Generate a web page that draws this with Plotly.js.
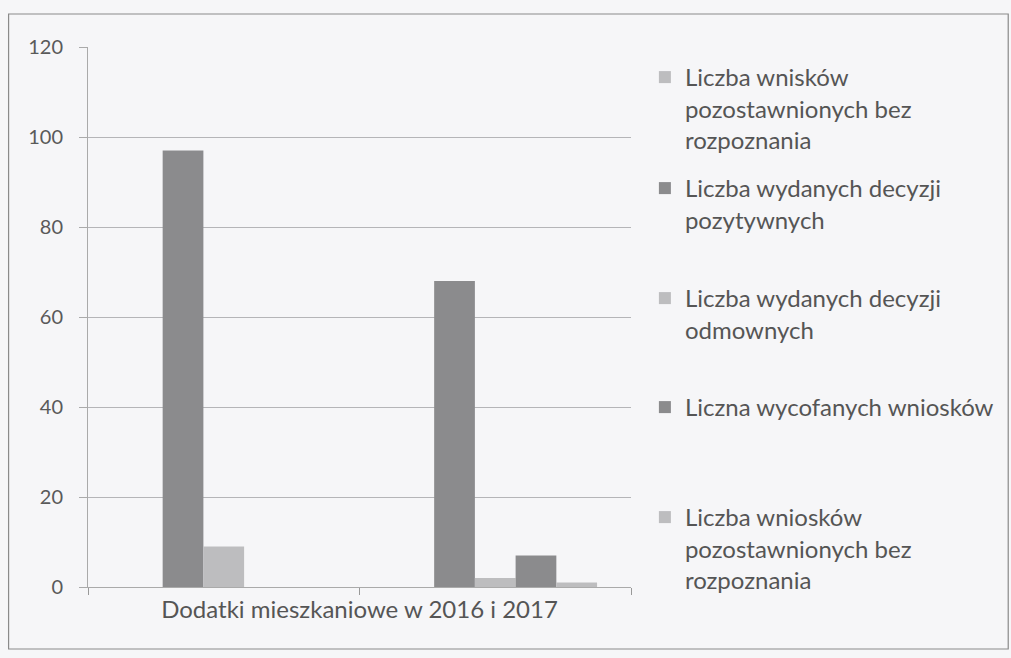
<!DOCTYPE html>
<html>
<head>
<meta charset="utf-8">
<script src="https://cdn.plot.ly/plotly-3.0.1.min.js"></script>
<style>html,body{margin:0;padding:0;background:#f6f6f8;}</style>
</head>
<body>
<div id="chart" style="width:1011px;height:658px;"></div>
<script>
const categories = ['2016', '2017'];
const seriesNames = [
  'Liczba wnisków<br>pozostawnionych bez<br>rozpoznania',
  'Liczba wydanych decyzji<br>pozytywnych',
  'Liczba wydanych decyzji<br>odmownych',
  'Liczna wycofanych wniosków',
  'Liczba wniosków<br>pozostawnionych bez<br>rozpoznania'
];
const s1 = [0, 0];
const s2 = [97, 68];
const s3 = [9, 2];
const s4 = [0, 7];
const s5 = [0, 1];
const seriesValues = [s1, s2, s3, s4, s5];
const seriesColors = ['#bdbdbf', '#8b8b8d', '#bdbdbf', '#8b8b8d', '#bdbdbf'];
const xAxisLabel = 'Dodatki mieszkaniowe w 2016 i 2017';
const yTicks = [0, 20, 40, 60, 80, 100, 120];

const FONT = 'Lato, "Open Sans", sans-serif';
const legendKeys = ['legend', 'legend2', 'legend3', 'legend4', 'legend5'];
// legend top positions (px) for each entry
const legendTopPx = [55, 166, 276, 385, 495];
const pt = 47, pb = 71, pl = 88, pr = 376;
const plotH = 658 - pt - pb, plotW = 1011 - pl - pr;

const traces = seriesValues.map((vals, i) => ({
  type: 'bar',
  x: categories,
  y: vals,
  name: seriesNames[i],
  legend: legendKeys[i],
  showlegend: true,
  marker: {color: seriesColors[i], line: {width: 0}},
  hoverinfo: 'y'
}));

const layout = {
  width: 1011,
  height: 658,
  showlegend: true,
  paper_bgcolor: '#f6f6f8',
  plot_bgcolor: '#f6f6f8',
  margin: {l: pl, r: pr, t: pt, b: pb},
  barmode: 'group',
  bargap: 0.25,
  bargroupgap: 0,
  font: {family: FONT, color: '#555', size: 20},
  xaxis: {
    type: 'category',
    showticklabels: false,
    tickson: 'boundaries',
    ticks: 'outside',
    ticklen: 7,
    tickcolor: '#999',
    showline: true,
    linecolor: '#aaa',
    linewidth: 1,
    showgrid: false,
    title: {text: xAxisLabel, font: {family: FONT, size: 24, color: '#555'}, standoff: 14}
  },
  yaxis: {
    range: [0, 120],
    tickvals: yTicks,
    ticks: 'outside',
    ticklen: 8,
    tickcolor: '#aaa',
    showline: true,
    linecolor: '#aaa',
    linewidth: 1,
    gridcolor: '#b5b5b8',
    gridwidth: 1,
    zeroline: false,
    tickfont: {family: FONT, size: 20, color: '#5a5a5a'},
    ticklabelstandoff: 12
  },
  shapes: [
    {type: 'rect', xref: 'paper', yref: 'paper',
     x0: (8 - pl) / plotW, x1: (1015 - pl) / plotW,
     y0: (658 - pb - 649) / plotH, y1: (658 - pb - 14) / plotH,
     line: {color: '#8a8a8a', width: 1.2}, fillcolor: 'rgba(0,0,0,0)'}
  ]
};

legendKeys.forEach((k, i) => {
  layout[k] = {
    x: (649 - pl) / plotW,
    xanchor: 'left',
    y: (658 - pb - legendTopPx[i]) / plotH,
    yanchor: 'top',
    bgcolor: 'rgba(0,0,0,0)',
    font: {family: FONT, size: 24, color: '#555'},
    valign: 'top',
    itemwidth: 30
  };
});

Plotly.newPlot('chart', traces, layout, {displayModeBar: false, staticPlot: true});
</script>
</body>
</html>
